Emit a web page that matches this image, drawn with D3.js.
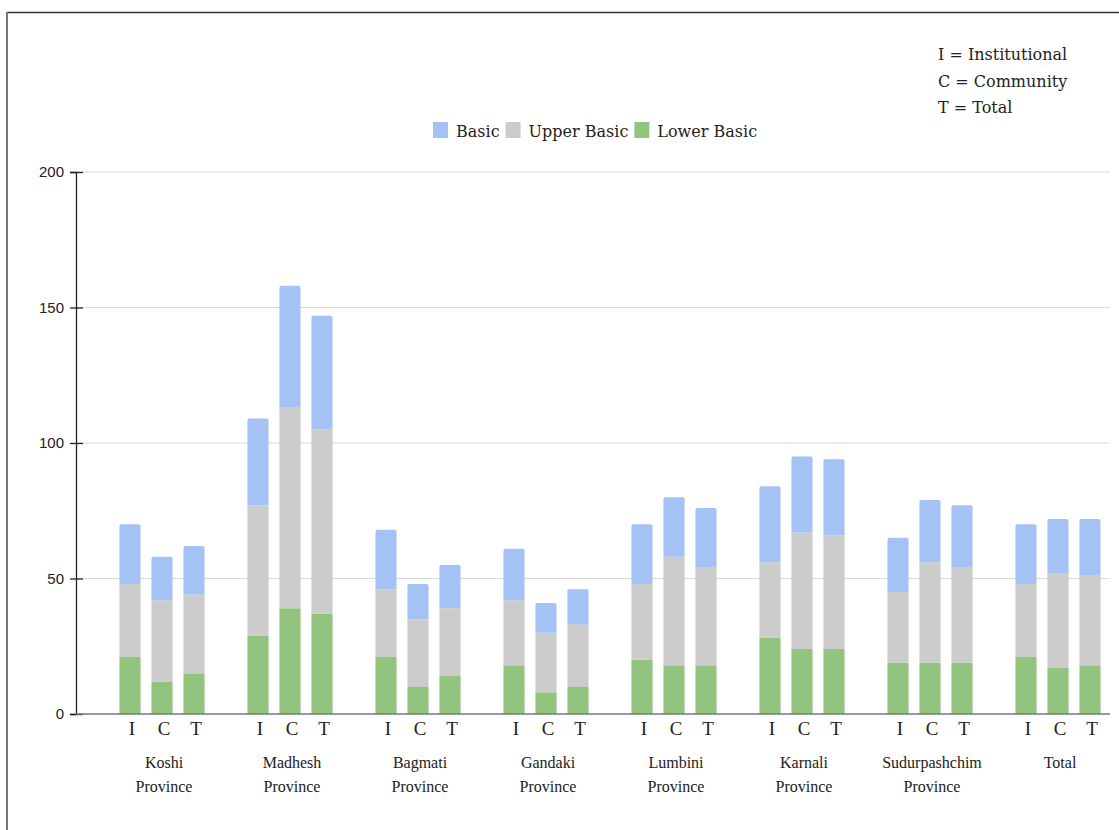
<!DOCTYPE html>
<html>
<head>
<meta charset="utf-8">
<script src="https://cdn.jsdelivr.net/npm/d3@7/dist/d3.min.js"></script>
<style>
  html, body { margin: 0; padding: 0; background: #fff; }
  svg { display: block; }
</style>
</head>
<body>
<svg id="chart" width="1119" height="830"></svg>
<script>
// Provinces (groups) and the school type within each group
const provinces = ["Koshi Province", "Madhesh Province", "Bagmati Province", "Gandaki Province",
                   "Lumbini Province", "Karnali Province", "Sudurpashchim Province", "Total"];
const types = ["I", "C", "T"];

// Segment values per bar, ordered province by province as I, C, T
const lowerBasic = [21, 12, 15,  29, 39, 37,  21, 10, 14,  18, 8, 10,  20, 18, 18,  28, 24, 24,  19, 19, 19,  21, 17, 18];
const upperBasic = [27, 30, 29,  48, 74, 68,  25, 25, 25,  24, 22, 23,  28, 40, 36,  28, 43, 42,  26, 37, 35,  27, 35, 33];
const basic      = [22, 16, 18,  32, 45, 42,  22, 13, 16,  19, 11, 13,  22, 22, 22,  28, 28, 28,  20, 23, 23,  22, 20, 21];

const yTicks = [0, 50, 100, 150, 200];
const seriesNames = ["Basic", "Upper Basic", "Lower Basic"];
const seriesColors = ["#a4c2f4", "#cccccc", "#93c47d"];
const keyLines = ["I = Institutional", "C = Community", "T = Total"];

const svg = d3.select("#chart");
const W = 1119, H = 830;
const margin = { left: 76, right: 1110, top: 172, bottom: 714 };

// Frame lines
svg.append("line").attr("x1", 7).attr("x2", W).attr("y1", 12.5).attr("y2", 12.5)
  .attr("stroke", "#333").attr("stroke-width", 1.5);
svg.append("line").attr("x1", 7).attr("x2", 7).attr("y1", 12).attr("y2", H)
  .attr("stroke", "#777").attr("stroke-width", 2);

// Rows of bars: a gap slot before each province, then I, C, T
const rows = [];
provinces.forEach((p, gi) => {
  types.forEach((t, ti) => {
    const i = gi * 3 + ti;
    rows.push({ key: p + "|" + t, province: p, type: t,
      "Lower Basic": lowerBasic[i], "Upper Basic": upperBasic[i], "Basic": basic[i] });
  });
});
const slots = [];
provinces.forEach(p => { slots.push(p + "|gap"); types.forEach(t => slots.push(p + "|" + t)); });

const x = d3.scaleBand().domain(slots).range([82, 1106]).paddingInner(0.34).paddingOuter(0.17);
const y = d3.scaleLinear().domain([0, 200]).range([margin.bottom, margin.top]);

// Gridlines
svg.append("g").selectAll("line").data(yTicks.filter(d => d > 0)).join("line")
  .attr("x1", margin.left).attr("x2", margin.right)
  .attr("y1", d => y(d)).attr("y2", d => y(d))
  .attr("stroke", "#d9d9d9").attr("stroke-width", 1);

// Y axis
const yAxis = d3.axisLeft(y).tickValues(yTicks).tickSize(6).tickPadding(5);
const gy = svg.append("g").attr("transform", `translate(${margin.left},0)`).call(yAxis);
gy.attr("font-size", null).attr("font-family", null);
gy.select(".domain").attr("stroke", "#222").attr("stroke-width", 1.3);
gy.selectAll(".tick line").attr("stroke", "#222").attr("stroke-width", 1.3).attr("x2", 7).attr("x1", -6);
gy.selectAll(".tick text").style("font-family", "'Liberation Sans', Arial, sans-serif")
  .style("font-size", "15px").attr("fill", "#222").attr("x", -12);

// Stacked bars
const stackOrder = ["Lower Basic", "Upper Basic", "Basic"];
const stack = d3.stack().keys(stackOrder)(rows);
const colorOf = d3.scaleOrdinal().domain(seriesNames).range(seriesColors);

function topRounded(x0, y0, w, h, r) {
  return `M${x0},${y0 + h}V${y0 + r}Q${x0},${y0} ${x0 + r},${y0}H${x0 + w - r}Q${x0 + w},${y0} ${x0 + w},${y0 + r}V${y0 + h}Z`;
}

stack.forEach(layer => {
  const isTop = layer.key === "Basic";
  svg.append("g").selectAll("path").data(layer).join("path")
    .attr("fill", colorOf(layer.key))
    .attr("d", d => {
      const x0 = x(d.data.key), w = x.bandwidth();
      const y0 = y(d[1]), h = y(d[0]) - y(d[1]);
      return isTop ? topRounded(x0, y0, w, h, 2) : `M${x0},${y0}h${w}v${h}h${-w}Z`;
    });
});

// X baseline
svg.append("line").attr("x1", margin.left).attr("x2", margin.right)
  .attr("y1", margin.bottom).attr("y2", margin.bottom)
  .attr("stroke", "#777").attr("stroke-width", 1.5);

// Type letters under each bar
svg.append("g").selectAll("text").data(rows).join("text")
  .attr("x", d => x(d.key) + x.bandwidth() / 2 + 2)
  .attr("y", 735)
  .attr("text-anchor", "middle")
  .attr("font-family", "'Liberation Serif', 'Times New Roman', serif")
  .attr("font-size", 19).attr("fill", "#222")
  .text(d => d.type);

// Province labels (two lines), centred on the middle bar
const provLabels = svg.append("g").selectAll("text").data(provinces).join("text")
  .attr("text-anchor", "middle")
  .attr("font-family", "'Liberation Serif', 'Times New Roman', serif")
  .attr("font-size", 16).attr("fill", "#222");
provLabels.each(function(p) {
  const cx = x(p + "|C") + x.bandwidth() / 2 + 2;
  const parts = p.split(" ");
  const t = d3.select(this);
  parts.forEach((s, i) => {
    t.append("tspan").attr("x", cx).attr("y", 768 + i * 23.5).text(s);
  });
});

// Legend
const legendFont = "'DejaVu Serif', Georgia, serif";
const legend = svg.append("g");
let lx = 433;
seriesNames.forEach((name, i) => {
  legend.append("rect").attr("x", lx).attr("y", 122).attr("width", 15).attr("height", 16)
    .attr("fill", seriesColors[i]);
  const txt = legend.append("text").attr("x", lx + 23).attr("y", 137)
    .attr("font-family", legendFont).attr("font-size", 16).attr("fill", "#222").text(name);
  lx += 23 + txt.node().getComputedTextLength() + 6;
});

// Abbreviation key
svg.append("g").selectAll("text").data(keyLines).join("text")
  .attr("x", 938).attr("y", (d, i) => 60 + i * 26.5)
  .attr("font-family", legendFont).attr("font-size", 16).attr("fill", "#222")
  .text(d => d);
</script>
</body>
</html>
